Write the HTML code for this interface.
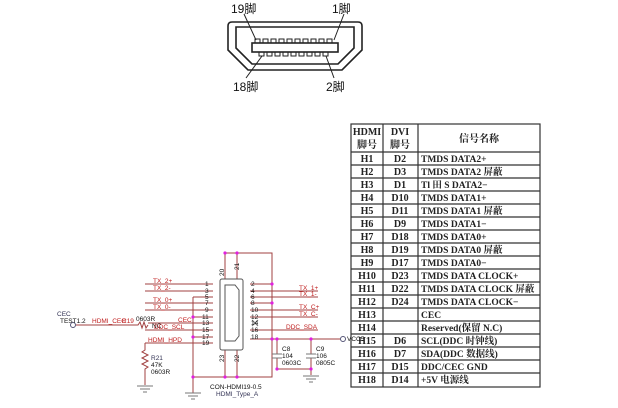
<!DOCTYPE html>
<html><head><meta charset="utf-8"><style>
html,body{margin:0;padding:0;background:#fff;}
svg{display:block}
</style></head><body>
<svg width="618" height="408" viewBox="0 0 618 408" xmlns="http://www.w3.org/2000/svg" font-family="Liberation Sans, Noto Sans CJK SC, sans-serif">
<g fill="none" stroke="#222" stroke-width="1.6">
<path d="M232,22 L358,22 Q362,22 362,26 L362,50 L342,70 L248,70 L228,50 L228,26 Q228,22 232,22 Z"/>
<path d="M236,27 L354,27 L354,48 L338,64 L252,64 L236,48 Z"/>
<rect x="252" y="43" width="86" height="9"/>
</g>
<g fill="none" stroke="#222" stroke-width="1">
<path d="M255,43v-4h5v4 M263,43v-4h5v4 M271,43v-4h5v4 M279,43v-4h5v4 M287,43v-4h5v4 M295,43v-4h5v4 M303,43v-4h5v4 M311,43v-4h5v4 M319,43v-4h5v4 M327,43v-4h5v4"/>
<path d="M259,52v4h5v-4 M267,52v4h5v-4 M275,52v4h5v-4 M283,52v4h5v-4 M291,52v4h5v-4 M299,52v4h5v-4 M307,52v4h5v-4 M315,52v4h5v-4 M323,52v4h5v-4"/>
<path d="M244,14 L256,40 M344,14 L334,40 M246,78 L262,56 M334,78 L326,56"/>
</g>
<g font-size="12" fill="#111">
<text x="231" y="13">19脚</text><text x="332" y="13">1脚</text>
<text x="233" y="91">18脚</text><text x="326" y="91">2脚</text>
</g>
<g stroke="#333" stroke-width="1.2" fill="none">
<rect x="351" y="124" width="189" height="263"/>
<line x1="383" y1="124" x2="383" y2="387"/>
<line x1="418" y1="124" x2="418" y2="387"/>
<line x1="351" y1="152" x2="540" y2="152"/>
<path d="M351,165h189M351,178h189M351,191h189M351,204h189M351,217h189M351,230h189M351,243h189M351,256h189M351,269h189M351,282h189M351,295h189M351,308h189M351,321h189M351,334h189M351,347h189M351,360h189M351,373h189"/>
</g>
<g font-family="Liberation Serif, Noto Serif CJK SC, serif" font-size="10" font-weight="bold" fill="#222" text-anchor="middle">
<text x="367" y="135">HDMI</text><text x="367" y="148">脚号</text>
<text x="400" y="135">DVI</text><text x="400" y="148">脚号</text>
<text x="479" y="142">信号名称</text>
<text x="367" y="162">H1</text><text x="400" y="162">D2</text>
<text x="367" y="175">H2</text><text x="400" y="175">D3</text>
<text x="367" y="188">H3</text><text x="400" y="188">D1</text>
<text x="367" y="201">H4</text><text x="400" y="201">D10</text>
<text x="367" y="214">H5</text><text x="400" y="214">D11</text>
<text x="367" y="227">H6</text><text x="400" y="227">D9</text>
<text x="367" y="240">H7</text><text x="400" y="240">D18</text>
<text x="367" y="253">H8</text><text x="400" y="253">D19</text>
<text x="367" y="266">H9</text><text x="400" y="266">D17</text>
<text x="367" y="279">H10</text><text x="400" y="279">D23</text>
<text x="367" y="292">H11</text><text x="400" y="292">D22</text>
<text x="367" y="305">H12</text><text x="400" y="305">D24</text>
<text x="367" y="318">H13</text>
<text x="367" y="331">H14</text>
<text x="367" y="344">H15</text><text x="400" y="344">D6</text>
<text x="367" y="357">H16</text><text x="400" y="357">D7</text>
<text x="367" y="370">H17</text><text x="400" y="370">D15</text>
<text x="367" y="383">H18</text><text x="400" y="383">D14</text>
</g>
<g font-family="Liberation Serif, Noto Serif CJK SC, serif" font-size="9.5" font-weight="bold" fill="#222">
<text x="421" y="162">TMDS DATA2+</text>
<text x="421" y="175">TMDS DATA2 屏蔽</text>
<text x="421" y="188">Tl 田 S DATA2−</text>
<text x="421" y="201">TMDS DATA1+</text>
<text x="421" y="214">TMDS DATA1 屏蔽</text>
<text x="421" y="227">TMDS DATA1−</text>
<text x="421" y="240">TMDS DATA0+</text>
<text x="421" y="253">TMDS DATA0 屏蔽</text>
<text x="421" y="266">TMDS DATA0−</text>
<text x="421" y="279">TMDS DATA CLOCK+</text>
<text x="421" y="292">TMDS DATA CLOCK 屏蔽</text>
<text x="421" y="305">TMDS DATA CLOCK−</text>
<text x="421" y="318">CEC</text>
<text x="421" y="331">Reserved(保留 N.C)</text>
<text x="421" y="344">SCL(DDC 时钟线)</text>
<text x="421" y="357">SDA(DDC 数据线)</text>
<text x="421" y="370">DDC/CEC GND</text>
<text x="421" y="383">+5V 电源线</text>
</g>
<g stroke="#a04040" stroke-width="1" fill="none">
<path d="M145,284H213M145,291H213M193,297H213M145,303H213M145,310H213M193,317H213M148,323H213M145,330H213M193,337H213M145,343H213"/>
<path d="M193,297V393"/>
<path d="M250,284H272M250,291H318M250,297H318M250,303H272M250,310H318M250,317H318M250,330H318M250,339H340"/>
<path d="M225,279V253H272V377H193M237,279V253M225,350V377M237,350V377"/>
<path d="M76,325H138l2,-3l2,6l2,-6l2,6l2,-3"/>
<path d="M145,343V350l-3,2l6,3l-6,3l6,3l-6,3l6,3l-3,2V385"/>
<path d="M277,339V354M277,358V369M311,339V354M311,358V369M277,369H311V375"/>
</g>
<g stroke="#777" stroke-width="1">
<path d="M272,354h10M272,358h10M306,354h10M306,358h10"/>
<path d="M137,386h16M140,389h10M143,392h4M185,393h16M188,396h10M191,399h4M303,376h16M306,379h10M309,382h4"/>
<path d="M252,320l6,6M258,320l-6,6"/>
</g>
<circle cx="73" cy="325" r="2.5" fill="none" stroke="#557"/>
<circle cx="343" cy="339" r="2.5" fill="none" stroke="#557"/>
<g fill="none" stroke="#555" stroke-width="1">
<rect x="220" y="279" width="23" height="71" rx="2"/>
<path d="M225,285h10l4,5v46l-4,5h-10z"/>
</g>
<g fill="#e020e0">
<circle cx="225" cy="253" r="1.6"/><circle cx="237" cy="253" r="1.6"/><circle cx="272" cy="284" r="1.6"/><circle cx="272" cy="303" r="1.6"/>
<circle cx="193" cy="317" r="1.6"/><circle cx="193" cy="337" r="1.6"/><circle cx="193" cy="377" r="1.6"/>
<circle cx="225" cy="377" r="1.6"/><circle cx="237" cy="377" r="1.6"/><circle cx="272" cy="339" r="1.6"/>
<circle cx="277" cy="339" r="1.6"/><circle cx="311" cy="339" r="1.6"/><circle cx="277" cy="369" r="1.6"/><circle cx="311" cy="369" r="1.6"/>
</g>
<g font-size="6.5" fill="#111">
<text x="205" y="286">1</text><text x="205" y="293">3</text><text x="205" y="299">5</text><text x="205" y="305">7</text><text x="205" y="312">9</text>
<text x="202" y="319">11</text><text x="202" y="325">13</text><text x="202" y="332">15</text><text x="202" y="339">17</text><text x="202" y="345">19</text>
<text x="251" y="286">2</text><text x="251" y="293">4</text><text x="251" y="299">6</text><text x="251" y="305">8</text><text x="251" y="312">10</text>
<text x="251" y="319">12</text><text x="251" y="325">14</text><text x="251" y="332">16</text><text x="251" y="339">18</text>
<text x="224" y="276" transform="rotate(-90 224 276)">20</text><text x="239" y="270" transform="rotate(-90 239 270)">21</text>
<text x="224" y="362" transform="rotate(-90 224 362)">23</text><text x="239" y="362" transform="rotate(-90 239 362)">22</text>
<text x="57" y="316" fill="#335">CEC</text><text x="60" y="323">TEST1.2</text>
<text x="136" y="321">0603R</text>
<text x="151" y="360" fill="#335">R21</text><text x="151" y="367">47K</text><text x="151" y="374">0603R</text>
<text x="282" y="351">C8</text><text x="282" y="358">104</text><text x="282" y="365">0603C</text>
<text x="316" y="351">C9</text><text x="316" y="358">106</text><text x="316" y="365">0805C</text>
<text x="347" y="341">VCC5</text>
<text x="210" y="389">CON-HDMI19-0.5</text>
<text x="216" y="396" fill="#335">HDMI_Type_A</text>
<text x="152" y="328">NC</text>
</g>
<g font-size="6.5" fill="#c02020">
<text x="153" y="283">TX_2+</text><text x="153" y="290">TX_2-</text><text x="153" y="302">TX_0+</text><text x="153" y="309">TX_0-</text>
<text x="178" y="322">CEC</text><text x="154" y="329">DDC_SCL</text><text x="148" y="342">HDMI_HPD</text>
<text x="92" y="323">HDMI_CEC</text><text x="122" y="323">R19</text>
<text x="299" y="290">TX_1+</text><text x="299" y="296">TX_1-</text><text x="299" y="309">TX_C+</text><text x="299" y="316">TX_C-</text>
<text x="286" y="329">DDC_SDA</text>
</g>
</svg>
</body></html>
